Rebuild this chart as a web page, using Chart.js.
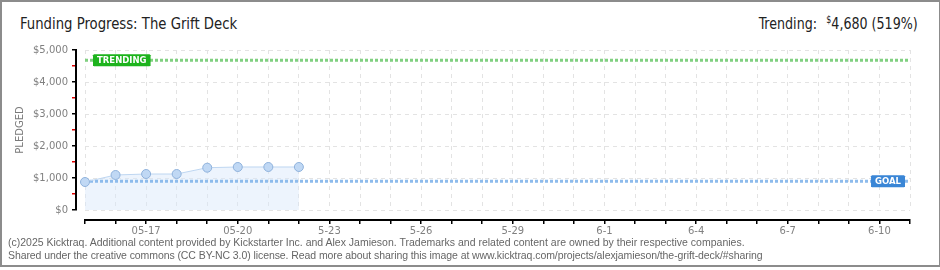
<!DOCTYPE html>
<html>
<head>
<meta charset="utf-8">
<script src="https://cdn.jsdelivr.net/npm/chart.js@4.4.1/dist/chart.umd.min.js"></script>
<style>
  body { margin: 0; background: #fff; }
  #wrap { position: relative; width: 940px; height: 270px; overflow: hidden; }
  #frame { position: absolute; left: 0; top: 0; width: 940px; height: 267px; box-sizing: border-box;
           border: 2px solid #8c8c8c; border-right-width: 1px; }
  #title { position: absolute; left: 20px; top: 14px; font: 16px "Liberation Sans Narrow", "DejaVu Sans Condensed", sans-serif;
           color: #222; transform: scaleX(0.92); transform-origin: left top; white-space: nowrap; }
  #trend { position: absolute; right: 22px; top: 14px; font: 16px "Liberation Sans Narrow", "DejaVu Sans Condensed", sans-serif;
           color: #222; transform: scaleX(0.88); transform-origin: right top; white-space: nowrap; }
  #trend sup { font-size: 10px; vertical-align: 6px; margin-left: 6px; }
  #foot { position: absolute; left: 8px; top: 236px; font: 10.5px "Liberation Sans", sans-serif; color: #666; line-height: 13px;
          white-space: nowrap; }
  #foot span { letter-spacing: -0.08px; }
  canvas { position: absolute; left: 0; top: 0; }
</style>
</head>
<body>
<div id="wrap">
  <div id="frame"></div>
  <div id="title">Funding Progress: The Grift Deck</div>
  <div id="trend">Trending: <sup>$</sup>4,680 (519%)</div>
  <canvas id="chart" width="940" height="270"></canvas>
  <div id="foot">(c)2025 Kicktraq. Additional content provided by Kickstarter Inc. and Alex Jamieson. Trademarks and related content are owned by their respective companies.<br><span>Shared under the creative commons (CC BY-NC 3.0) license. Read more about sharing this image at www.kicktraq.com/projects/alexjamieson/the-grift-deck/#sharing</span></div>
</div>
<script>
// days on the x axis, 5-15 through 6-11
const days = ['5-15','5-16','5-17','5-18','5-19','5-20','5-21','5-22','5-23','5-24','5-25','5-26','5-27','5-28',
  '5-29','5-30','5-31','6-1','6-2','6-3','6-4','6-5','6-6','6-7','6-8','6-9','6-10','6-11'];
// labels shown under the axis (every third day)
const tickLabels = ['','','05-17','','','05-20','','','5-23','','','5-26','','','5-29','','','6-1','','','6-4','','','6-7','','','6-10',''];
// pledged total per day
const pledged = [875, 1094, 1125, 1125, 1322, 1344, 1344, 1344];
const goal = 900;
const trending = 4680;

const pledgedPts = pledged.map((v, i) => ({ x: i, y: v }));
const lastDay = days.length - 1;

// draws the little GOAL / TRENDING tags on the lines
const tagPlugin = {
  id: 'tags',
  afterDatasetsDraw(chart) {
    const ctx = chart.ctx;
    const y = chart.scales.y;
    const area = chart.chartArea;
    function tag(text, value, color, alignRight) {
      ctx.save();
      ctx.font = 'bold 8.5px "DejaVu Sans", sans-serif';
      const w = ctx.measureText(text).width + 8;
      const h = 12;
      const cy = y.getPixelForValue(value);
      const x0 = alignRight ? area.right - 5 - w : area.left + 8;
      const y0 = cy - h / 2;
      ctx.fillStyle = color;
      ctx.beginPath();
      ctx.moveTo(x0 + 1, y0);
      ctx.lineTo(x0 + w - 1, y0);
      ctx.lineTo(x0 + w, y0 + 1);
      ctx.lineTo(x0 + w, y0 + h - 1);
      ctx.lineTo(x0 + w - 1, y0 + h);
      ctx.lineTo(x0 + 1, y0 + h);
      ctx.lineTo(x0, y0 + h - 1);
      ctx.lineTo(x0, y0 + 1);
      ctx.closePath();
      ctx.fill();
      ctx.fillStyle = '#fff';
      ctx.textBaseline = 'middle';
      ctx.fillText(text, x0 + 4, cy + 0.5);
      ctx.restore();
    }
    tag('TRENDING', trending, '#1db31d', false);
    tag('GOAL', goal, '#3a86d6', true);
  }
};

new Chart(document.getElementById('chart'), {
  type: 'line',
  data: {
    datasets: [
      {
        label: 'Pledged',
        data: pledgedPts,
        borderColor: '#bed6f1',
        borderWidth: 1,
        backgroundColor: 'rgba(214,230,250,0.45)',
        fill: 'origin',
        clip: false,
        pointRadius: 4.5,
        pointBackgroundColor: '#c0d8f4',
        pointBorderColor: '#8fb2dc',
        pointBorderWidth: 1,
        tension: 0
      },
      {
        label: 'Goal',
        data: [{ x: 0, y: goal }, { x: lastDay, y: goal }],
        borderColor: '#8dbbec',
        borderWidth: 3,
        borderDash: [3, 2],
        pointRadius: 0,
        fill: false
      },
      {
        label: 'Trending',
        data: [{ x: 0, y: trending }, { x: lastDay, y: trending }],
        borderColor: '#80d080',
        borderWidth: 3,
        borderDash: [3, 2],
        pointRadius: 0,
        fill: false
      }
    ]
  },
  options: {
    responsive: false,
    animation: false,
    devicePixelRatio: 1,
    layout: { padding: { top: 50, right: 30, left: 0, bottom: 0 } },
    plugins: {
      legend: { display: false },
      tooltip: { enabled: false },
      filler: { drawTime: 'beforeDatasetsDraw' }
    },
    scales: {
      x: {
        type: 'linear', min: 0, max: lastDay, weight: 0,
        ticks: { display: false, stepSize: 1, maxTicksLimit: 100 },
        grid: { color: '#e3e3e3', drawTicks: false },
        border: { display: false, dash: [4, 4] },
        afterFit(s) { s.height = 10; }
      },
      x2: {
        type: 'linear', position: 'bottom', min: 0, max: lastDay, weight: 1,
        ticks: {
          stepSize: 1, maxTicksLimit: 100, autoSkip: false, maxRotation: 0, padding: 1,
          color: '#808080', font: { family: '"DejaVu Sans", sans-serif', size: 10 },
          callback: (v) => tickLabels[v] || ''
        },
        grid: { drawOnChartArea: false, drawTicks: true, tickLength: 4, color: '#000', lineWidth: 1.5 },
        border: { display: true, color: '#000', width: 2 },
        afterFit(s) { s.height = 50; }
      },
      y: {
        min: 0, max: 5000, weight: 0,
        ticks: { display: false, stepSize: 1000 },
        grid: { color: '#e3e3e3', drawTicks: false },
        border: { display: false, dash: [4, 4] },
        afterFit(s) { s.width = 9; }
      },
      y2: {
        position: 'left', min: 0, max: 5000, weight: 1,
        ticks: {
          stepSize: 500, autoSkip: false, padding: 4,
          color: '#808080', font: { family: '"DejaVu Sans", sans-serif', size: 10 },
          callback: (v) => v % 1000 === 0 ? '$' + v.toLocaleString('en-US') : ''
        },
        title: {
          display: true, text: 'PLEDGED', color: '#7a7a7a',
          font: { family: '"DejaVu Sans", sans-serif', size: 10 },
          padding: { top: 14, bottom: 0 }
        },
        grid: {
          drawOnChartArea: false, drawTicks: true, tickLength: 4, lineWidth: 1.5,
          tickColor: (c) => (c.tick && c.tick.value % 1000 !== 0) ? '#e00000' : '#000'
        },
        border: { display: true, color: '#000', width: 2 },
        afterFit(s) { s.width = 76; }
      }
    }
  },
  plugins: [tagPlugin]
});
</script>
</body>
</html>
